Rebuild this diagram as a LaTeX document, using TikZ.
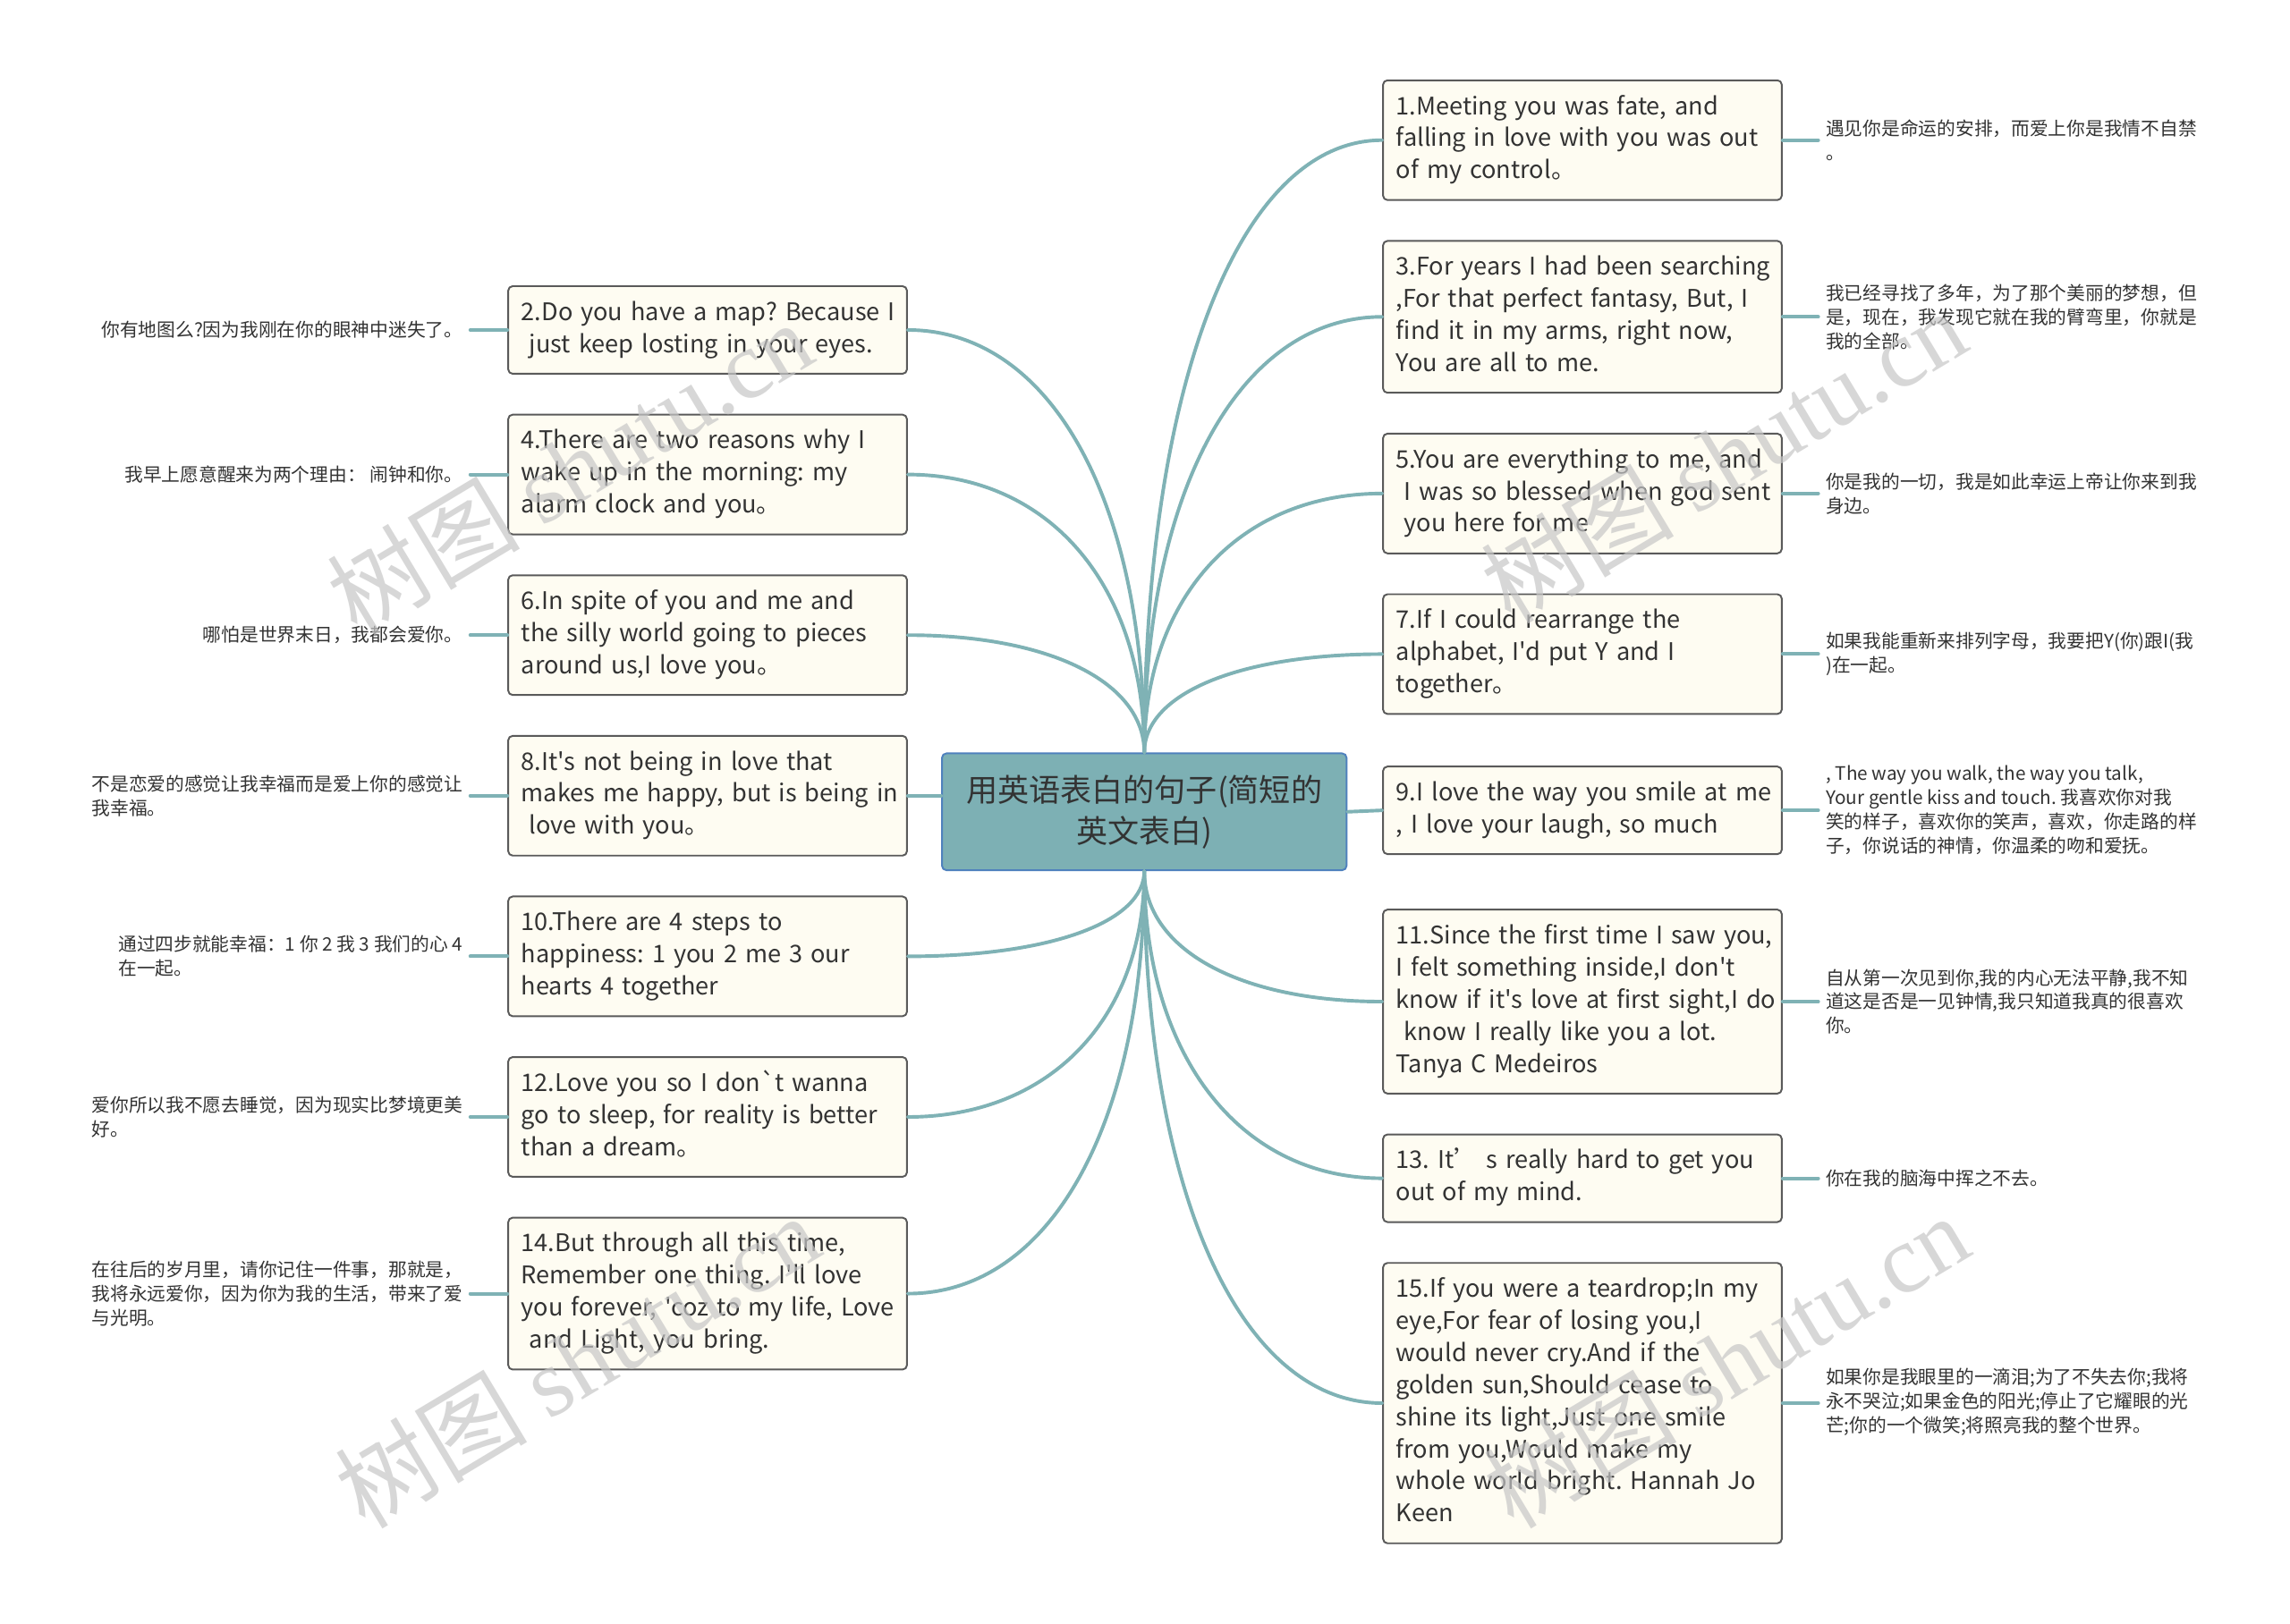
\documentclass[tikz,border=0pt]{standalone}
\usepackage{fontspec}
\setmainfont{Noto Sans CJK SC}[Ligatures=TeXOff]
\newfontfamily\wmfont{Liberation Serif}
\usepackage{xcolor}
\usetikzlibrary{calc}
\frenchspacing

\definecolor{linkteal}{HTML}{7FB2B5}
\definecolor{rootfill}{HTML}{7DB0B4}
\definecolor{rootedge}{HTML}{4F81BD}
\definecolor{boxfill}{HTML}{FEFCF2}
\definecolor{boxedge}{HTML}{5A5A5A}
\definecolor{txt}{HTML}{333333}

\tikzset{
  root/.style={draw=rootedge, fill=rootfill, line width=1.2pt, rounded corners=3pt,
    minimum width=277pt, minimum height=80pt, align=center,
    font=\fontsize{21.5}{28}\selectfont, text=txt},
  sentence/.style={draw=boxedge, fill=boxfill, line width=1.2pt, rounded corners=3pt,
    text width=255pt, inner xsep=9pt, inner ysep=8pt, align=left,
    font=\fontsize{16.6}{22}\selectfont, text=txt,
    execute at begin node={\strut\rightskip=-30pt plus 1fil\relax},
    execute at end node=\strut},
  note/.style={align=left, inner xsep=5pt, inner ysep=0pt,
    font=\fontsize{12.7}{16.5}\selectfont, text=txt},
  link/.style={draw=linkteal, line width=2.4pt},
  wmark/.style={text=black!22, opacity=.7, rotate=31, inner sep=0pt,
    font=\fontsize{66}{66}\selectfont},
}

\begin{document}
\begin{tikzpicture}[x=1pt, y=-1pt, line join=round, line cap=round]
        \useasboundingbox[fill=white] (0,0) rectangle (1568,1111.7);

        % root
        \node[root] (c) at (783.5,556) {用英语表白的句子(简短的\\英文表白)};

        % right side
        \node[sentence] (r1) at (1083.5,96) {1.Meeting you was fate, and\\falling in love with you was out\\of my control。};
        \node[sentence] (r3) at (1083.5,217) {3.For years I had been searching\\,For that perfect fantasy, But, I\\find it in my arms, right now,\\You are all to me.};
        \node[sentence] (r5) at (1083.5,338) {5.You are everything to me, and\\\ I was so blessed when god sent\\\ you here for me};
        \node[sentence] (r7) at (1083.5,448) {7.If I could rearrange the\\alphabet, I'd put Y and I\\together。};
        \node[sentence] (r9) at (1083.5,555) {9.I love the way you smile at me\\, I love your laugh, so much};
        \node[sentence] (r11) at (1083.5,686) {11.Since the first time I saw you,\\I felt something inside,I don't\\know if it's love at first sight,I do\\\ know I really like you a lot.\\Tanya C Medeiros};
        \node[sentence] (r13) at (1083.5,807) {13. It’ s really hard to get you\\out of my mind.};
        \node[sentence] (r15) at (1083.5,961) {15.If you were a teardrop;In my\\eye,For fear of losing you,I\\would never cry.And if the\\golden sun,Should cease to\\shine its light,Just one smile\\from you,Would make my\\whole world bright. Hannah Jo\\Keen};

        % left side
        \node[sentence] (l2) at (484.5,226) {2.Do you have a map? Because I\\\ just keep losting in your eyes.};
        \node[sentence] (l4) at (484.5,325) {4.There are two reasons why I\\wake up in the morning: my\\alarm clock and you。};
        \node[sentence] (l6) at (484.5,435) {6.In spite of you and me and\\the silly world going to pieces\\around us,I love you。};
        \node[sentence] (l8) at (484.5,545) {8.It's not being in love that\\makes me happy, but is being in\\\ love with you。};
        \node[sentence] (l10) at (484.5,655) {10.There are 4 steps to\\happiness: 1 you 2 me 3 our\\hearts 4 together};
        \node[sentence] (l12) at (484.5,765) {12.Love you so I don`t wanna\\go to sleep, for reality is better\\than a dream。};
        \node[sentence] (l14) at (484.5,886) {14.But through all this time,\\Remember one thing. I'll love\\you forever, 'coz to my life, Love\\\ and Light, you bring.};

        % notes
        \node[note, anchor=west] (n1) at (1245,96) {遇见你是命运的安排，而爱上你是我情不自禁\\。};
        \node[note, anchor=west] (n3) at (1245,217) {我已经寻找了多年，为了那个美丽的梦想，但\\是，现在，我发现它就在我的臂弯里，你就是\\我的全部。};
        \node[note, anchor=west] (n5) at (1245,338) {你是我的一切，我是如此幸运上帝让你来到我\\身边。};
        \node[note, anchor=west] (n7) at (1245,448) {如果我能重新来排列字母，我要把Y(你)跟I(我\\)在一起。};
        \node[note, anchor=west] (n9) at (1245,555) {, The way you walk, the way you talk,\\Your gentle kiss and touch. 我喜欢你对我\\笑的样子，喜欢你的笑声，喜欢，你走路的样\\子，你说话的神情，你温柔的吻和爱抚。};
        \node[note, anchor=west] (n11) at (1245,686) {自从第一次见到你,我的内心无法平静,我不知\\道这是否是一见钟情,我只知道我真的很喜欢\\你。};
        \node[note, anchor=west] (n13) at (1245,807) {你在我的脑海中挥之不去。};
        \node[note, anchor=west] (n15) at (1245,960) {如果你是我眼里的一滴泪;为了不失去你;我将\\永不哭泣;如果金色的阳光;停止了它耀眼的光\\芒;你的一个微笑;将照亮我的整个世界。};

        \node[note, anchor=east] (n2) at (322,226) {你有地图么?因为我刚在你的眼神中迷失了。};
        \node[note, anchor=east] (n4) at (322,325) {我早上愿意醒来为两个理由：\ 闹钟和你。};
        \node[note, anchor=east] (n6) at (322,435) {哪怕是世界末日，我都会爱你。};
        \node[note, anchor=east] (n8) at (322,545) {不是恋爱的感觉让我幸福而是爱上你的感觉让\\我幸福。};
        \node[note, anchor=east] (n10) at (322,655) {通过四步就能幸福：1 你 2 我 3 我们的心 4\\在一起。};
        \node[note, anchor=east] (n12) at (322,765) {爱你所以我不愿去睡觉，因为现实比梦境更美\\好。};
        \node[note, anchor=east] (n14) at (322,886) {在往后的岁月里，请你记住一件事，那就是，\\我将永远爱你，因为你为我的生活，带来了爱\\与光明。};

        % branches
        \foreach \b/\s/\e in {r1/north/west, r3/north/west, r5/north/west, r7/north/west,
                              l2/north/east, l4/north/east, l6/north/east,
                              r11/south/west, r13/south/west, r15/south/west,
                              l10/south/east, l12/south/east, l14/south/east}
        \draw[link] (c.\s) .. controls ($(c.\s)!0.6!(c.\s |- \b.\e)$) and ($(\b.\e)!0.6!(c.\s |- \b.\e)$) .. (\b.\e);
        \draw[link] (c.east) -- (r9.west);
        \draw[link] (l8.east) -- (l8.east -| c.west);

        \foreach \i in {1,3,...,15}
        \draw[link] (r\i.east) -- (r\i.east -| n\i.west);
        \foreach \i in {2,4,...,14}
        \draw[link] (l\i.west -| n\i.east) -- (l\i.west);

        % watermarks
        \foreach \p [count=\k] in {(390,320), (1180,312), (395,932), (1182,932)}
        \node[wmark] (w\k) at \p {树图 {\wmfont shutu.cn}};
\end{tikzpicture}
\end{document}
